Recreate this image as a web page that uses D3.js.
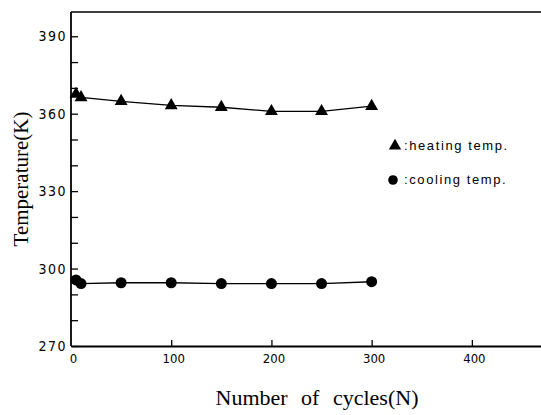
<!DOCTYPE html>
<html>
<head>
<meta charset="utf-8">
<script src="https://cdn.jsdelivr.net/npm/d3@7"></script>
<style>
  body { margin: 0; background: #fff; }
  svg { display: block; }
</style>
</head>
<body>
<svg id="chart" width="541" height="415"></svg>
<script>
// Thermal cycling: peak heating and cooling temperatures per cycle count
const cycles      = [5, 10, 50, 100, 150, 200, 250, 300];
const heatingTemp = [367.6, 366.3, 364.8, 363.2, 362.5, 360.9, 360.9, 362.9];
const coolingTemp = [295.6, 294.2, 294.5, 294.5, 294.2, 294.2, 294.2, 294.9];

const xTickValues = [0, 100, 200, 300, 400];
const yLabelValues = [270, 300, 330, 360, 390];
const yTickValues = [270, 280, 290, 300, 310, 320, 330, 340, 350, 360, 370, 380, 390];

const legendLabels = [":heating temp.", ":cooling temp."];

const plot = { left: 71, right: 541, top: 12, bottom: 346 };

const svg = d3.select("#chart");

const x = d3.scaleLinear().domain([0, 469]).range([plot.left, plot.right]);
const y = d3.scaleLinear().domain([270, 399.4]).range([plot.bottom, plot.top]);

const tickFont = "'Liberation Sans Narrow', 'DejaVu Sans Condensed', 'Liberation Sans', sans-serif";
const serifFont = "'Liberation Serif', 'DejaVu Serif', serif";

// frame: top border line
svg.append("line")
  .attr("x1", plot.left).attr("x2", plot.right)
  .attr("y1", plot.top).attr("y2", plot.top)
  .attr("stroke", "#000").attr("stroke-width", 1.6);

// y axis with inward ticks every 10 K, labels every 30 K
const yAxis = d3.axisLeft(y)
  .tickValues(yTickValues)
  .tickSizeInner(-7)
  .tickSizeOuter(0)
  .tickPadding(4)
  .tickFormat(d => yLabelValues.includes(d) ? d : "");

const gy = svg.append("g")
  .attr("transform", `translate(${plot.left},0)`)
  .call(yAxis);
gy.select(".domain").attr("stroke-width", 1.8)
  .attr("d", `M0,${plot.top}V${plot.bottom}`);
gy.selectAll(".tick line").attr("stroke-width", 1.3);
gy.selectAll(".tick text")
  .attr("font-family", tickFont)
  .attr("font-size", 14)
  .attr("letter-spacing", 1.5)
  .attr("fill", "#000");

// x axis with inward ticks
const xAxis = d3.axisBottom(x)
  .tickValues(xTickValues)
  .tickSizeInner(-6)
  .tickSizeOuter(0)
  .tickPadding(8);

const gx = svg.append("g")
  .attr("transform", `translate(0,${plot.bottom})`)
  .call(xAxis);
gx.select(".domain").attr("stroke-width", 1.8);
gx.selectAll(".tick line")
  .attr("stroke-width", 1.3)
  .attr("opacity", d => d === 0 ? 0 : 1);
gx.selectAll(".tick text")
  .attr("font-family", tickFont)
  .attr("font-size", 13)
  .attr("dx", 2)
  .attr("fill", "#000");

// axis titles
svg.append("text")
  .attr("x", 317).attr("y", 405)
  .attr("text-anchor", "middle")
  .attr("font-family", serifFont)
  .attr("font-size", 22)
  .attr("word-spacing", 8)
  .attr("fill", "#000")
  .text("Number of cycles(N)");

svg.append("text")
  .attr("transform", "translate(28,179) rotate(-90)")
  .attr("text-anchor", "middle")
  .attr("font-family", serifFont)
  .attr("font-size", 21)
  .attr("fill", "#000")
  .text("Temperature(K)");

// series
const heating = cycles.map((c, i) => ({ n: c, t: heatingTemp[i] }));
const cooling = cycles.map((c, i) => ({ n: c, t: coolingTemp[i] }));

const line = d3.line().x(d => x(d.n)).y(d => y(d.t));

svg.append("path").datum(heating)
  .attr("d", line)
  .attr("fill", "none").attr("stroke", "#000").attr("stroke-width", 1.3);

svg.append("path").datum(cooling)
  .attr("d", line)
  .attr("fill", "none").attr("stroke", "#000").attr("stroke-width", 1.3);

const tri = d3.symbol().type(d3.symbolTriangle).size(72);
svg.append("g").selectAll("path")
  .data(heating).join("path")
  .attr("d", tri)
  .attr("transform", d => `translate(${x(d.n)},${y(d.t)})`)
  .attr("fill", "#000");

svg.append("g").selectAll("circle")
  .data(cooling).join("circle")
  .attr("cx", d => x(d.n)).attr("cy", d => y(d.t))
  .attr("r", 5.5)
  .attr("fill", "#000");

// legend
const legend = svg.append("g");
legend.append("path")
  .attr("d", d3.symbol().type(d3.symbolTriangle).size(66))
  .attr("transform", "translate(395,146)")
  .attr("fill", "#000");
legend.append("circle")
  .attr("cx", 393).attr("cy", 180).attr("r", 4.8)
  .attr("fill", "#000");

legend.selectAll("text")
  .data(legendLabels).join("text")
  .attr("x", 404)
  .attr("y", (d, i) => i === 0 ? 150 : 184)
  .attr("font-family", "'Liberation Sans', 'DejaVu Sans', sans-serif")
  .attr("font-size", 13)
  .attr("letter-spacing", 1.6)
  .attr("fill", "#000")
  .text(d => d);
</script>
</body>
</html>
